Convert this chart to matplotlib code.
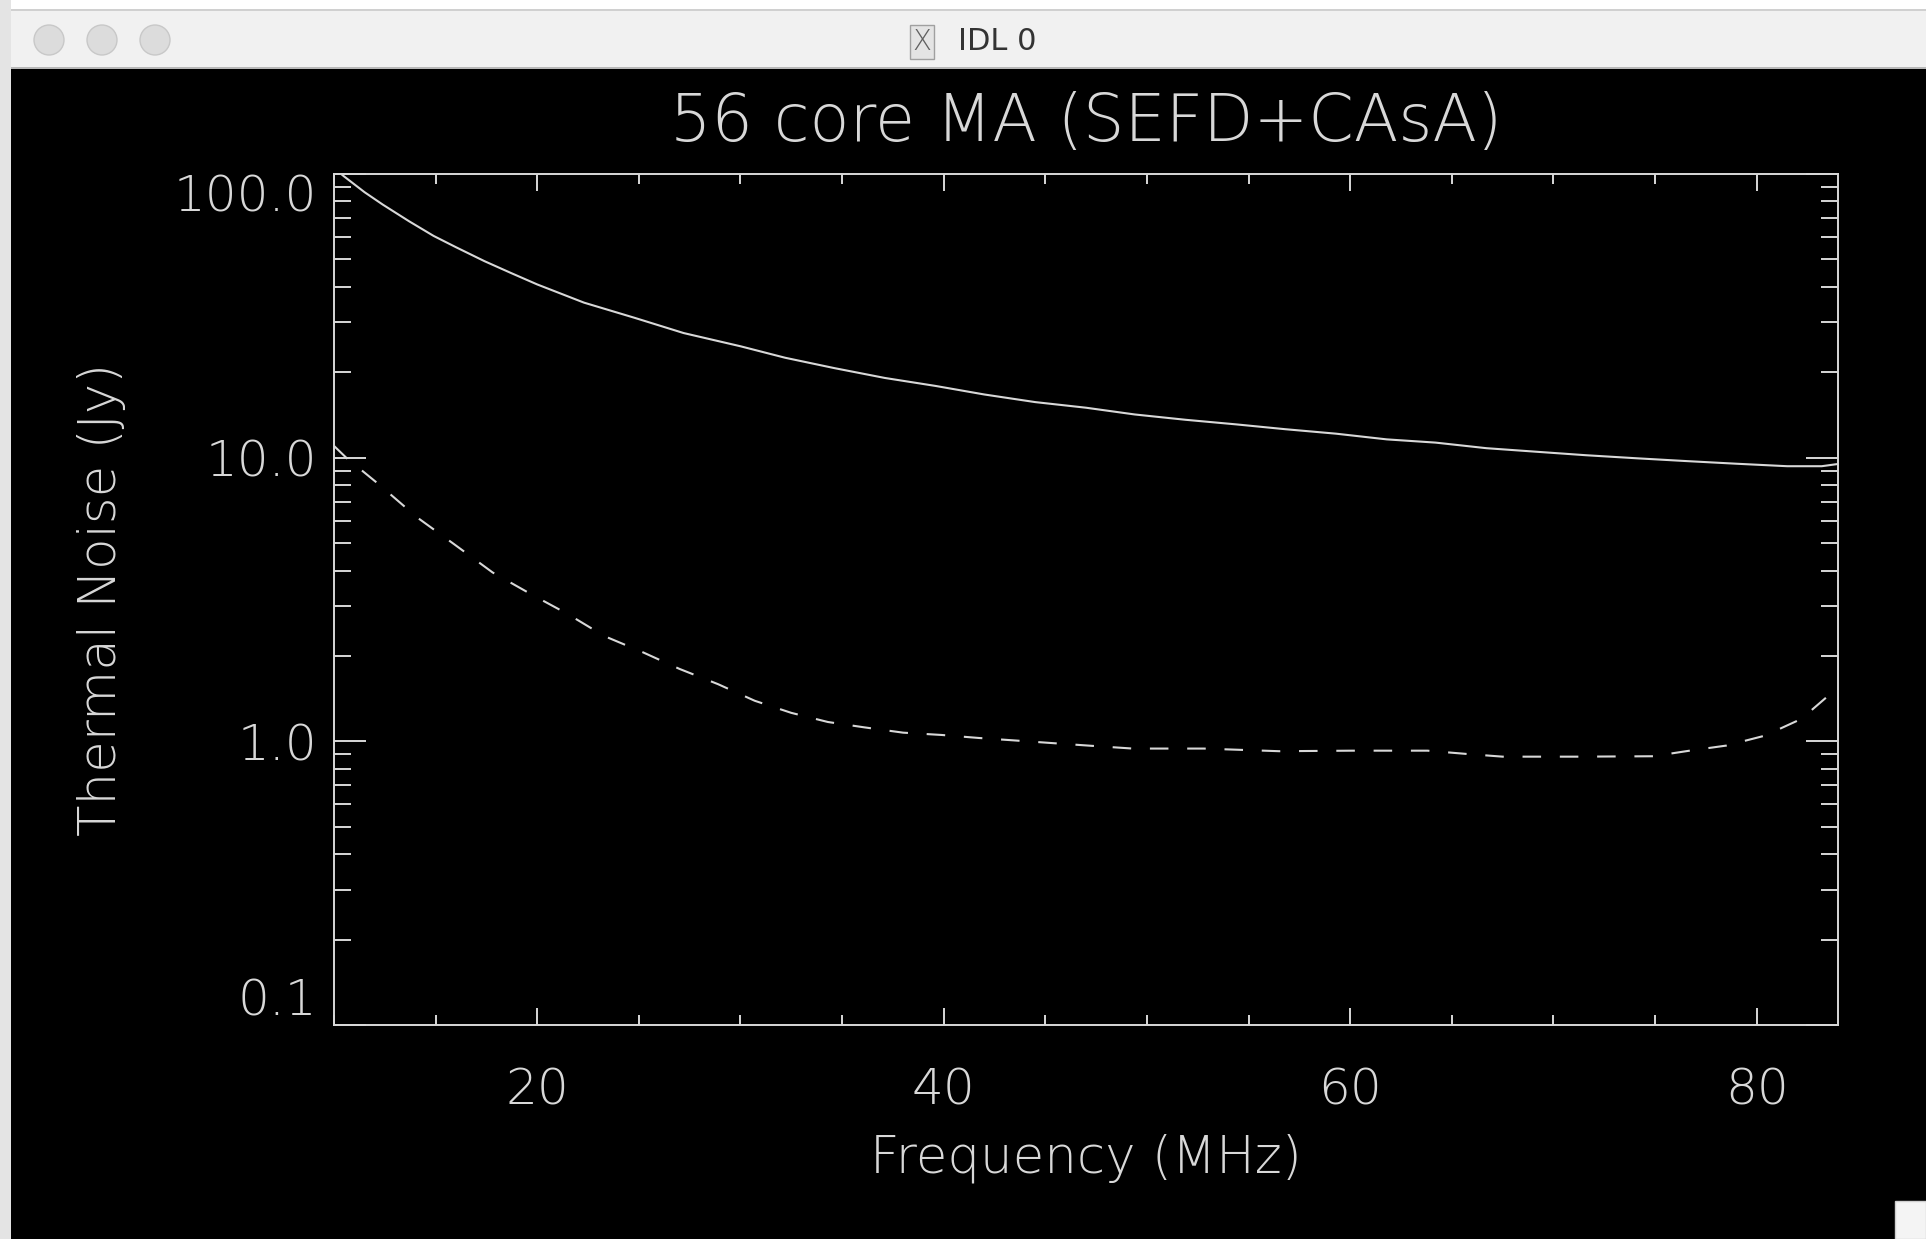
import numpy as np
import matplotlib
matplotlib.use("Agg")
import matplotlib.pyplot as plt
from matplotlib.ticker import FixedLocator, FixedFormatter, LogLocator, NullFormatter, MultipleLocator
from matplotlib.patches import Rectangle, Circle

# ---------------- data ----------------
freq_sefd = [10, 10.5, 11.5, 12.4, 13.7, 14.9, 16.0, 17.4, 18.7, 20, 22.3, 24.8, 27.2, 30, 32.2,
             34.6, 37.1, 39.6, 42.0, 44.5, 47.0, 49.4, 51.9, 54.4, 56.8, 59.3, 61.8, 64.2, 66.7,
             69.1, 71.6, 74.1, 76.5, 79.0, 81.5, 83.2, 84]
noise_sefd = [105, 98, 86.3, 78, 68.1, 60.5, 55.2, 49.3, 44.8, 40.8, 35.2, 31.1, 27.5, 24.7, 22.5,
              20.7, 19.1, 17.9, 16.7, 15.7, 15.0, 14.2, 13.6, 13.1, 12.6, 12.15, 11.6, 11.3, 10.8,
              10.5, 10.2, 9.95, 9.73, 9.52, 9.33, 9.33, 9.5]

freq_casa = [10, 10.6, 12.2, 14.1, 15.9, 17.8, 19.7, 21.5, 23.3, 25.2, 27.0, 28.9, 30.7, 32.5,
             34.3, 36.1, 38.0, 39.9, 41.7, 43.6, 45.5, 47.3, 49.3, 52.8, 56.5, 60.1, 63.8,
             65.7, 67.5, 71.2, 74.9, 76.7, 78.5, 80.4, 82.2, 84.0]
noise_casa = [11.0, 10.0, 8.06, 6.15, 4.96, 3.94, 3.30, 2.81, 2.35, 2.06, 1.80, 1.59, 1.39, 1.26,
              1.17, 1.12, 1.073, 1.053, 1.028, 1.006, 0.984, 0.964, 0.943, 0.943, 0.923, 0.927, 0.927,
              0.903, 0.883, 0.883, 0.886, 0.927, 0.966, 1.047, 1.20, 1.55]

y_ticks = [0.1, 1.0, 10.0, 100.0]
y_tick_labels = ["0.1", "1.0", "10.0", "100.0"]
x_ticks = [20, 40, 60, 80]
x_tick_labels = ["20", "40", "60", "80"]

title = "56 core MA (SEFD+CAsA)"
xlabel = "Frequency (MHz)"
ylabel = "Thermal Noise (Jy)"
window_title = "IDL 0"

# ---------------- style ----------------
FG = "#d8d8d8"
plt.rcParams["font.family"] = ["DejaVu Sans"]
plt.rcParams["font.weight"] = "light"
plt.rcParams["axes.labelweight"] = "light"

W_PX, H_PX = 1926, 1239
fig = plt.figure(figsize=(W_PX / 100, H_PX / 100), dpi=100, facecolor="black")


def fx(px):
    return px / W_PX


def fy(py):
    return 1 - py / H_PX


# axes placement (pixels in the reference)
ax_l, ax_r, ax_t, ax_b = 334, 1838, 174, 1025
ax = fig.add_axes([fx(ax_l), fy(ax_b), fx(ax_r - ax_l), (ax_b - ax_t) / H_PX])
ax.set_facecolor("black")

ax.plot(freq_sefd, noise_sefd, color=FG, lw=1.5)
ax.plot(freq_casa, noise_casa, color=FG, lw=1.5, linestyle=(0, (8.9, 9.0)))

ax.set_yscale("log")
ax.set_ylim(0.1, 100)
ax.set_xlim(10, 84)

ax.yaxis.set_major_locator(FixedLocator(y_ticks))
ax.yaxis.set_major_formatter(FixedFormatter(y_tick_labels))
ax.yaxis.set_minor_locator(LogLocator(base=10, subs=np.arange(2, 10)))
ax.yaxis.set_minor_formatter(NullFormatter())
ax.xaxis.set_major_locator(FixedLocator(x_ticks))
ax.xaxis.set_major_formatter(FixedFormatter(x_tick_labels))
ax.xaxis.set_minor_locator(MultipleLocator(5))

ax.tick_params(which="both", direction="in", top=True, right=True, color=FG, labelcolor=FG)
ax.tick_params(axis="y", which="major", length=23, width=1.4, pad=12, labelsize=36)
ax.tick_params(axis="y", which="minor", length=12, width=1.4)
ax.tick_params(axis="x", which="major", length=12, width=1.4, pad=30, labelsize=36)
ax.tick_params(axis="x", which="minor", length=7, width=1.4)
for s in ax.spines.values():
    s.set_color(FG)
    s.set_linewidth(1.4)

# IDL keeps the end labels inside the axis box
yt = ax.yaxis.get_major_ticks()
yt[0].label1.set_verticalalignment("bottom")
yt[-1].label1.set_verticalalignment("top")

ax.set_xlabel(xlabel, color=FG, fontsize=37, fontweight="light")
ax.xaxis.label.set_verticalalignment("center")
ax.xaxis.set_label_coords(0.5, (ax_b - 1158) / (ax_b - ax_t))
ax.set_ylabel(ylabel, color=FG, fontsize=37, fontweight="light")
ax.yaxis.label.set_verticalalignment("center")
ax.yaxis.set_label_coords((102 - ax_l) / (ax_r - ax_l), 0.5)

fig.text(fx((ax_l + ax_r) / 2), fy(123), title, color=FG, fontsize=47,
         fontweight="light", ha="center", va="center")

# ---------------- window chrome ----------------
fig.add_artist(Rectangle((0, fy(68)), 1, 68 / H_PX, transform=fig.transFigure,
                         facecolor="#f1f1f1", edgecolor="none", zorder=5))
fig.add_artist(Rectangle((0, fy(10)), 1, 10 / H_PX, transform=fig.transFigure,
                         facecolor="#ffffff", edgecolor="none", zorder=6))
fig.add_artist(Rectangle((0, fy(11)), 1, 1.5 / H_PX, transform=fig.transFigure,
                         facecolor="#d0d0d0", edgecolor="none", zorder=6))
fig.add_artist(Rectangle((0, fy(69)), 1, 2 / H_PX, transform=fig.transFigure,
                         facecolor="#b8b8b8", edgecolor="none", zorder=6))
fig.add_artist(Rectangle((0, 0), fx(11), 1, transform=fig.transFigure,
                         facecolor="#e4e4e4", edgecolor="none", zorder=6))
for cx in (49, 102, 155):
    fig.add_artist(Circle((cx, H_PX - 40), 15, transform=None, facecolor="#dcdcdc",
                          edgecolor="#c8c8c8", lw=1, zorder=7))
fig.text(fx(922), fy(42), "X", color="#606060", fontsize=20, ha="center", va="center",
         zorder=7, bbox=dict(boxstyle="square,pad=0.1", facecolor="#e4e4e4", edgecolor="#a0a0a0", lw=1))
fig.text(fx(958), fy(42), window_title, color="#333333", fontsize=22, fontweight="normal",
         ha="left", va="center", zorder=7)
fig.add_artist(Rectangle((fx(1895), 0), fx(31), 38 / H_PX, transform=fig.transFigure,
                         facecolor="#f4f4f4", edgecolor="#cfcfcf", lw=1, zorder=7))

fig.savefig("out.png", dpi=100, facecolor="black")
